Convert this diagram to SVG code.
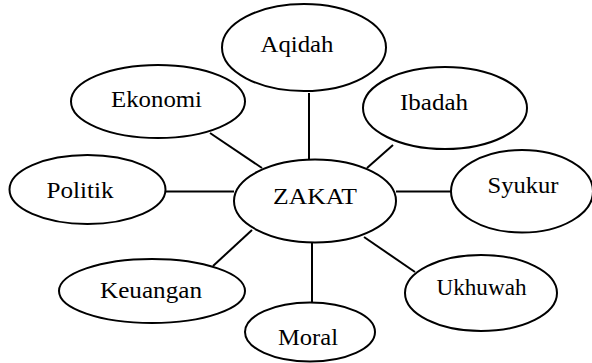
<svg xmlns="http://www.w3.org/2000/svg" width="592" height="363" viewBox="0 0 592 363">
<style>
ellipse{fill:#fff;stroke:#000;stroke-width:2}
line{stroke:#000;stroke-width:2}
text{font-size:24px;fill:#000;text-anchor:middle}
</style>
<rect width="592" height="363" fill="#fff"/>
<g id="connectors">
<line x1="210" y1="133" x2="262" y2="168"/>
<line x1="309" y1="93" x2="309" y2="162"/>
<line x1="393" y1="145" x2="367" y2="168"/>
<line x1="166" y1="191.5" x2="234" y2="191.5"/>
<line x1="396" y1="191.5" x2="452" y2="191.5"/>
<line x1="213" y1="266" x2="252" y2="230"/>
<line x1="364" y1="237" x2="415" y2="272"/>
<line x1="312" y1="243" x2="312" y2="303"/>
</g>
<g font-family="Liberation Serif, Times New Roman, serif">
<g id="zakat"><ellipse cx="315" cy="201" rx="81" ry="41.5"/><text x="315" y="204" textLength="84" lengthAdjust="spacingAndGlyphs">ZAKAT</text></g>
<g id="aqidah"><ellipse cx="304" cy="47.5" rx="82" ry="43.5"/><text x="297" y="52" textLength="73" lengthAdjust="spacingAndGlyphs">Aqidah</text></g>
<g id="ekonomi"><ellipse cx="158" cy="101.5" rx="87" ry="36.5"/><text x="156.5" y="107" textLength="91" lengthAdjust="spacingAndGlyphs">Ekonomi</text></g>
<g id="ibadah"><ellipse cx="445" cy="108" rx="82" ry="41"/><text x="434" y="110" textLength="68" lengthAdjust="spacingAndGlyphs">Ibadah</text></g>
<g id="politik"><ellipse cx="87.5" cy="189.5" rx="78" ry="34.5"/><text x="80" y="198" textLength="67" lengthAdjust="spacingAndGlyphs">Politik</text></g>
<g id="syukur"><ellipse cx="522" cy="191.3" rx="71" ry="41.3"/><text x="523" y="193" textLength="71" lengthAdjust="spacingAndGlyphs">Syukur</text></g>
<g id="keuangan"><ellipse cx="152" cy="291" rx="93" ry="32"/><text x="151" y="298" textLength="102" lengthAdjust="spacingAndGlyphs">Keuangan</text></g>
<g id="ukhuwah"><ellipse cx="481" cy="293" rx="76" ry="38"/><text x="481.5" y="295" textLength="90" lengthAdjust="spacingAndGlyphs">Ukhuwah</text></g>
<g id="moral"><ellipse cx="310" cy="332" rx="65" ry="29.5"/><text x="308" y="345" textLength="60" lengthAdjust="spacingAndGlyphs">Moral</text></g>
</g>
</svg>
